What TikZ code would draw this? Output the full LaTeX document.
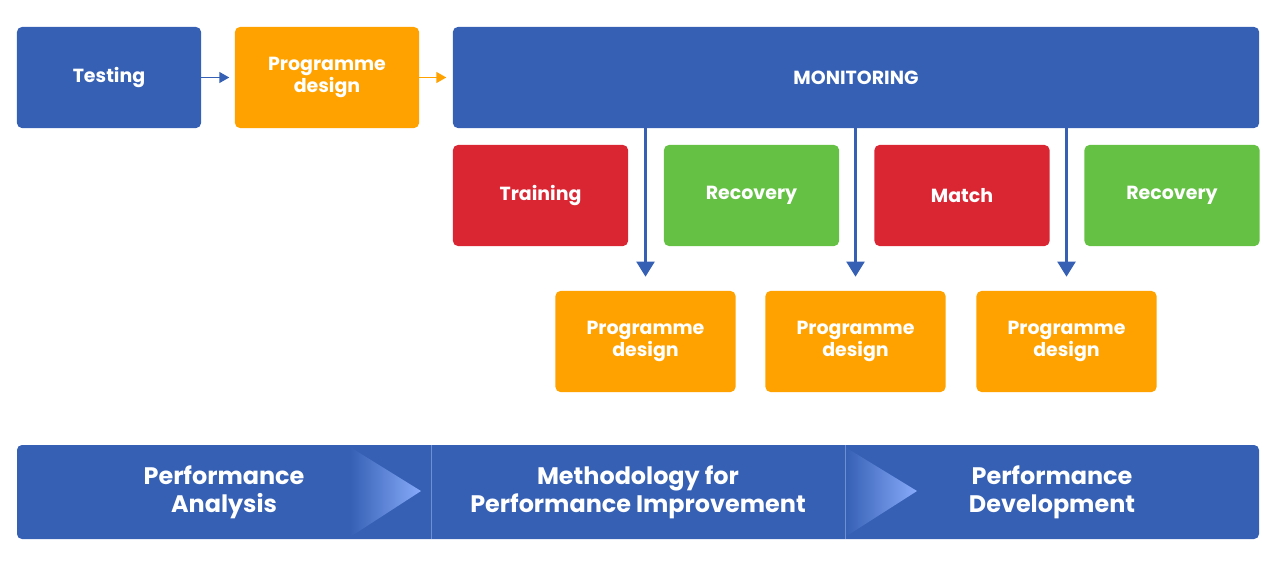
\documentclass[tikz,border=0pt]{standalone}
\usepackage{fontspec}
\setmainfont{Poppins}
\usepackage{xcolor}
\usetikzlibrary{arrows.meta}
\definecolor{PMBlue}{HTML}{3560B4}
\definecolor{PMOrange}{HTML}{FFA200}
\definecolor{PMRed}{HTML}{DA2533}
\definecolor{PMGreen}{HTML}{64C143}
\definecolor{PMLight}{HTML}{88ABFA}
\definecolor{PMLine}{HTML}{6F8FD3}
\tikzset{
  pmbox/.style={rounded corners=3.5pt,text=white,align=center,inner sep=0pt,
    font=\bfseries\fontsize{13.5}{15.6}\selectfont,minimum height=2.525cm},
  bigbox/.style={pmbox,minimum width=4.6cm},
  midbox/.style={pmbox,minimum width=4.375cm},
  lowbox/.style={pmbox,minimum width=4.5cm},
  bartext/.style={text=white,align=center,font=\bfseries\fontsize{17}{20}\selectfont},
  downarrow/.style={PMBlue,line width=2pt,-{Triangle[width=0.45cm,length=0.38cm]}},
  sidearrow/.style={line width=1.3pt,-{Triangle[width=0.27cm,length=0.25cm]}}
}
\begin{document}
\begin{tikzpicture}[x=0.025cm,y=-0.025cm]
\path[use as bounding box] (0,0) rectangle (1281,561);
% top row
\node[bigbox,fill=PMBlue] (test) at (109,77.5) {Testing};
\node[bigbox,fill=PMOrange] (pd0) at (327,77.5) {Programme\\design};
\node[pmbox,fill=PMBlue,minimum width=20.15cm] (mon) at (856,77.5) {MONITORING};
\draw[sidearrow,PMBlue] (test.east) -- ++(28,0);
\draw[sidearrow,PMOrange] (pd0.east) -- ++(27,0);
% second row
\node[midbox,fill=PMRed] (train) at (540.5,195.5) {Training};
\node[midbox,fill=PMGreen] (rec1) at (751.5,195.5) {Recovery};
\node[midbox,fill=PMRed] (match) at (962,195.5) {Match};
\node[midbox,fill=PMGreen] (rec2) at (1172,195.5) {Recovery};
% third row
\node[lowbox,fill=PMOrange] (pd1) at (645.5,341.5) {Programme\\design};
\node[lowbox,fill=PMOrange] (pd2) at (855.5,341.5) {Programme\\design};
\node[lowbox,fill=PMOrange] (pd3) at (1066.5,341.5) {Programme\\design};
\draw[downarrow,shorten >=0.35cm] (mon.south -| pd1.north) -- (pd1.north);
\draw[downarrow,shorten >=0.35cm] (mon.south -| pd2.north) -- (pd2.north);
\draw[downarrow,shorten >=0.35cm] (mon.south -| pd3.north) -- (pd3.north);
% bottom bar
\fill[PMBlue,rounded corners=3.5pt] (17,445) rectangle (1259,539);
\shade[left color=PMBlue,right color=PMLight] (350,447) -- (421,491) -- (350,537) -- cycle;
\shade[left color=PMBlue,right color=PMLight] (845,447) -- (917,491) -- (845,537) -- cycle;
\draw[PMLine,line width=0.6pt] (431,445) -- (431,539);
\draw[PMLine,line width=0.6pt] (845,445) -- (845,539);
\node[bartext] (analysis) at (224,492) {Performance\\Analysis};
\node[bartext] (method) at (638,492) {Methodology for\\Performance Improvement};
\node[bartext] (develop) at (1052,492) {Performance\\Development};
\end{tikzpicture}
\end{document}
